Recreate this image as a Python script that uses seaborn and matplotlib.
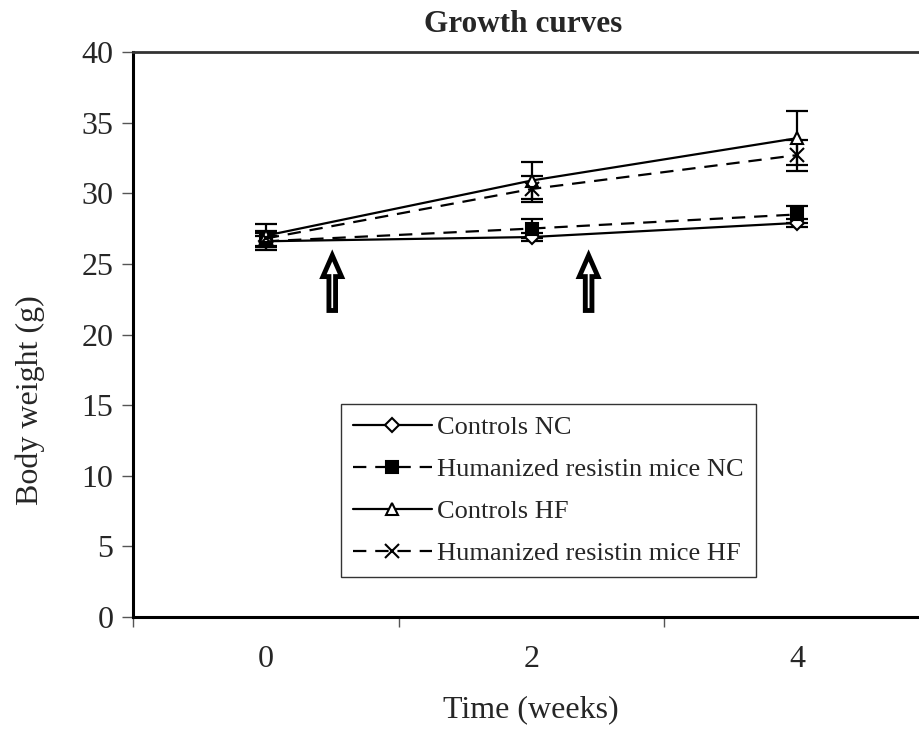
import matplotlib
matplotlib.use("Agg")
import matplotlib.pyplot as plt
import seaborn as sns
import pandas as pd
import numpy as np
from matplotlib.patches import FancyArrow

sns.set_theme(style="white")
plt.rcParams['font.family'] = ['Liberation Serif', 'DejaVu Serif']

weeks = ["0", "2", "4"]
series_names = ["Controls NC", "Humanized resistin mice NC",
                "Controls HF", "Humanized resistin mice HF"]
controls_nc = [26.6, 26.9, 27.9]
hr_nc = [26.6, 27.5, 28.5]
controls_hf = [27.0, 30.9, 33.9]
hr_hf = [26.8, 30.3, 32.7]
controls_nc_err = [0.4, 0.3, 0.3]
hr_nc_err = [0.6, 0.7, 0.6]
controls_hf_err = [0.8, 1.3, 1.9]
hr_hf_err = [0.5, 0.9, 1.1]
arrow_weeks = [0.25, 1.215]

values = [controls_nc, hr_nc, controls_hf, hr_hf]
errors = [controls_nc_err, hr_nc_err, controls_hf_err, hr_hf_err]

rows = []
for name, vals, errs in zip(series_names, values, errors):
    for i, (w, v, e) in enumerate(zip(weeks, vals, errs)):
        rows.append({"series": name, "pos": i, "week": w, "weight": v, "err": e})
df = pd.DataFrame(rows)

styles = {
    "Controls NC": dict(ls="-", marker="D", mfc="white", ms=7),
    "Humanized resistin mice NC": dict(ls=(0, (6, 4)), marker="s", mfc="black", ms=8),
    "Controls HF": dict(ls="-", marker="^", mfc="white", ms=9),
    "Humanized resistin mice HF": dict(ls=(0, (6, 4)), marker="x", mfc="black", ms=10),
}

fig = plt.figure(figsize=(9.19, 7.32), dpi=100)
ax = fig.add_axes([133/919, 1-617/732, 797/919, 565/732])

for name in series_names:
    sub = df[df.series == name]
    st = styles[name]
    ax.errorbar(sub["pos"], sub["weight"], yerr=sub["err"], fmt="none",
                ecolor="black", elinewidth=1.6, capsize=8, capthick=1.6, zorder=2)
    sns.lineplot(data=sub, x="pos", y="weight", ax=ax, color="black",
                 linestyle=st["ls"], marker=st["marker"], markersize=st["ms"],
                 markerfacecolor=st["mfc"], markeredgecolor="black",
                 markeredgewidth=1.5, linewidth=1.6, label=name, zorder=3)

ax.set_xlim(-0.5, 2.5)
ax.set_ylim(0, 40)
ax.set_yticks(np.arange(0, 41, 5))
ax.set_xticks(range(len(weeks)))
ax.set_xticklabels(weeks)
ax.set_xticks([-0.5, 0.5, 1.5, 2.5], minor=True)
ax.tick_params(axis="x", which="major", length=0, pad=20, labelsize=23)
ax.tick_params(axis="x", which="minor", length=7, width=1, direction="out", color="#555555")
ax.tick_params(axis="y", which="major", length=8, width=1, direction="out",
               pad=6, labelsize=23, color="#555555", left=True)
ax.tick_params(axis="x", which="minor", bottom=True)
ax.set_xlabel("")
ax.set_ylabel("")

for s in ["left", "bottom"]:
    ax.spines[s].set_linewidth(2.2)
    ax.spines[s].set_color("black")
ax.spines["top"].set_linewidth(2.0)
ax.spines["top"].set_color("#333333")
ax.spines["right"].set_visible(False)

# arrows
for aw in arrow_weeks:
    arr = FancyArrow(aw, 21.7, 0, 3.9, width=0.025, head_width=0.07,
                     head_length=1.5, length_includes_head=True,
                     facecolor="white", edgecolor="black", linewidth=3.5, zorder=4)
    ax.add_patch(arr)

leg = ax.legend(loc="upper left", bbox_to_anchor=((341-133)/797, (617-404)/565),
                frameon=True, fontsize=19, handlelength=3.0, handletextpad=0.2,
                borderpad=0.45, labelspacing=0.7, fancybox=False, borderaxespad=0)
leg.get_frame().set_edgecolor("black")
leg.get_frame().set_linewidth(1.0)

fig.text(523/919, 1-24/732, "Growth curves", ha="center", va="center",
         fontsize=22.5, fontweight="bold")
fig.text(531/919, 1-710/732, "Time (weeks)", ha="center", va="center", fontsize=23)
fig.text(30/919, 1-400/732, "Body weight (g)", ha="center", va="center",
         fontsize=23, rotation=90)

fig.savefig("out.png", dpi=100)
